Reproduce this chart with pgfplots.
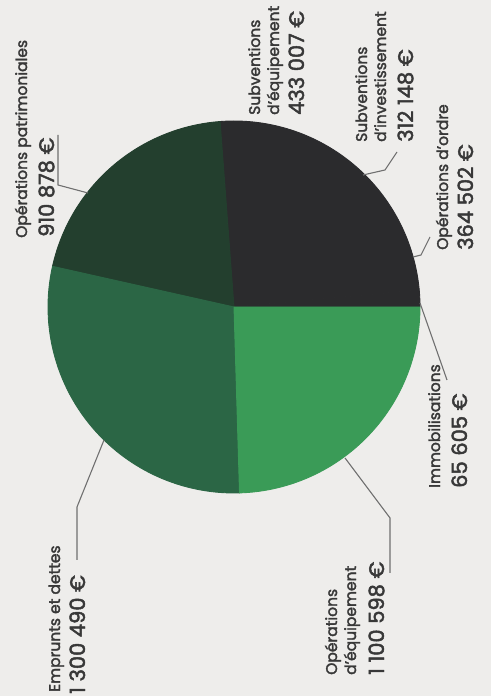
\documentclass[border=0pt]{standalone}
\usepackage{pgfplots}
\pgfplotsset{compat=1.18}
\usepackage{pgfplotstable}
\usepackage{fontspec}
\setmainfont{Poppins}
\newfontfamily\medfont{Poppins}[FakeBold=2.2]
\definecolor{bg}{HTML}{EEEDEB}
\definecolor{cblack}{HTML}{2B2B2D}
\definecolor{cdark}{HTML}{233F2E}
\definecolor{cmid}{HTML}{2B6645}
\definecolor{clight}{HTML}{3A9B57}
\definecolor{leadc}{HTML}{707070}
\definecolor{txt}{HTML}{383838}

\pgfplotstableread[col sep=comma]{
id,value
Immobilisations,65605
Ordre,364502
SubvInvest,312148
SubvEquip,433007
Patrimoniales,910878
Emprunts,1300490
OpEquip,1100598
}\piedata

\def\total{0}
\pgfplotsforeachungrouped \i in {0,...,6}{%
  \pgfplotstablegetelem{\i}{value}\of\piedata
  \xdef\total{\fpeval{\total+\pgfplotsretval}}}
\def\cum{0}
\pgfplotsforeachungrouped \i in {0,...,6}{%
  \pgfplotstablegetelem{\i}{value}\of\piedata
  \expandafter\xdef\csname sa\i\endcsname{\fpeval{360*\cum/\total}}%
  \xdef\cum{\fpeval{\cum+\pgfplotsretval}}%
  \expandafter\xdef\csname ea\i\endcsname{\fpeval{360*\cum/\total}}}

\def\cx{234}\def\cy{389}\def\rr{186}
\newcommand\slice[2]{%
  \edef\tmp{\noexpand\addplot[fill=#2, draw=#2, line width=0.9pt, line join=round,
    domain=\csname sa#1\endcsname:\csname ea#1\endcsname, samples=60, variable=\noexpand\t]
   ({\cx+\rr*cos(\noexpand\t)},{\cy+\rr*sin(\noexpand\t)}) -- (axis cs:\cx,\cy) -- cycle;}\tmp}
\newcommand\sfnt{\medfont\fontsize{15.5}{18}\selectfont}
\newcommand\nfnt{\medfont\fontsize{21}{24}\selectfont}
\newcommand\lab[3]{\node[rotate=90, anchor=base west, inner sep=0pt, text=txt, font=#3] at (axis cs:#1) {#2};}

\begin{document}
\begin{tikzpicture}
\begin{axis}[hide axis, scale only axis, width=491pt, height=696pt,
  xmin=0, xmax=491, ymin=0, ymax=696, clip=false]
\fill[bg] (axis cs:0,0) rectangle (axis cs:491,696);
\slice{0}{cblack}
\slice{1}{cblack}
\slice{2}{cblack}
\slice{3}{cblack}
\slice{4}{cdark}
\slice{5}{cmid}
\slice{6}{clight}
% leaders
\addplot[leadc, line width=1.1pt] coordinates {(88,503) (58,511) (58,561)};
\addplot[leadc, line width=1.1pt] coordinates {(104,256) (77,189) (77,136)};
\addplot[leadc, line width=1.1pt] coordinates {(345,238) (390,178) (390,123)};
\addplot[leadc, line width=1.1pt] coordinates {(420,393) (447,316)};
\addplot[leadc, line width=1.1pt] coordinates {(413,439) (421,441) (430,459)};
\addplot[leadc, line width=1.1pt] coordinates {(363,521) (385,526) (397,544)};
% labels
\lab{27,458}{Opérations patrimoniales}{\sfnt}
\lab{54,459}{910 878 €}{\nfnt}
\lab{60,4}{Emprunts et dettes}{\sfnt}
\lab{85,2}{1 300 490 €}{\nfnt}
\lab{337,21}{Opérations}{\sfnt}
\lab{356,21}{d’équipement}{\sfnt}
\lab{384,21}{1 100 598 €}{\nfnt}
\lab{440,208}{Immobilisations}{\sfnt}
\lab{467,208}{65 605 €}{\nfnt}
\lab{448,446}{Opérations d’ordre}{\sfnt}
\lab{473,446}{364 502 €}{\nfnt}
\lab{367,554}{Subventions}{\sfnt}
\lab{386,554}{d’investissement}{\sfnt}
\lab{413,554}{312 148 €}{\nfnt}
\lab{260,581}{Subventions}{\sfnt}
\lab{279,581}{d’équipement}{\sfnt}
\lab{304,581}{433 007 €}{\nfnt}
\end{axis}
\end{tikzpicture}
\end{document}
